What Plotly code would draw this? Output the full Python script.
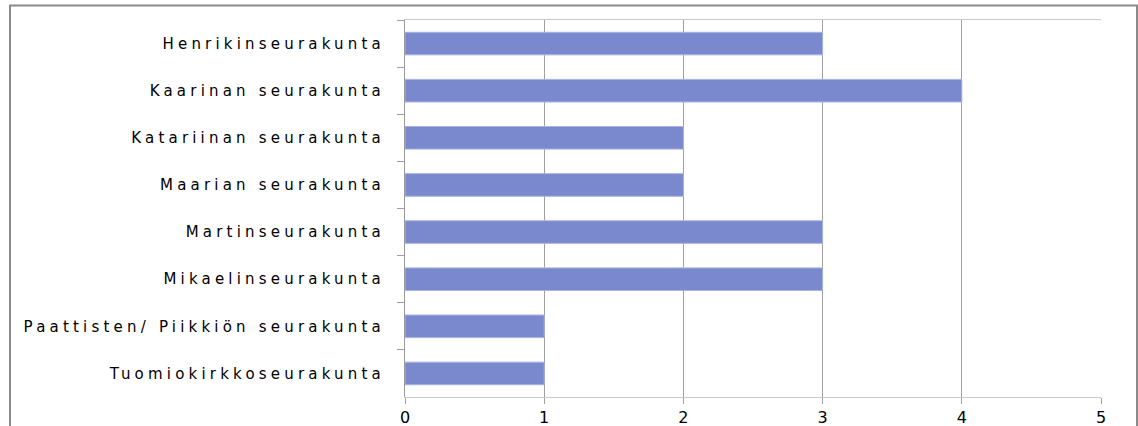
import plotly.graph_objects as go

categories = [
    "Henrikinseurakunta",
    "Kaarinan seurakunta",
    "Katariinan seurakunta",
    "Maarian seurakunta",
    "Martinseurakunta",
    "Mikaelinseurakunta",
    "Paattisten/ Piikkiön seurakunta",
    "Tuomiokirkkoseurakunta",
]
values = [3, 4, 2, 2, 3, 3, 1, 1]
x_ticks = [0, 1, 2, 3, 4, 5]

W, H = 1138, 426
L, R, T, B = 405, 37, 20, 29
pw, ph = W - L - R, H - T - B


def styled(s):
    return '<span style="letter-spacing:4.2px">' + s + '</span>'


ylabels = [styled(c) for c in categories]

fig = go.Figure(
    go.Bar(
        x=values,
        y=ylabels,
        orientation="h",
        marker=dict(color="#7a89ce", line=dict(color="#a9b3e2", width=1)),
        width=0.48,
        hoverinfo="x+y",
    )
)


def px_x(p):
    return (p - L) / pw


def px_y(p):
    return (H - B - p) / ph


fig.add_shape(
    type="rect", xref="paper", yref="paper",
    x0=px_x(10), x1=px_x(1137), y0=px_y(470), y1=px_y(5.5),
    line=dict(color="#8a8a8a", width=2), fillcolor="rgba(0,0,0,0)", layer="below",
)

fig.update_layout(
    template="none",
    width=W, height=H,
    margin=dict(l=L, r=R, t=T, b=B, pad=0),
    plot_bgcolor="white", paper_bgcolor="white",
    showlegend=False,
    font=dict(family="DejaVu Sans", size=15, color="black"),
    bargap=0.52,
)
fig.update_xaxes(
    range=[0, 5], tickmode="array", tickvals=x_ticks, ticktext=[str(v) for v in x_ticks],
    showgrid=True, gridcolor="#a0a0a0", gridwidth=1,
    showline=True, linecolor="#c8c8c8", linewidth=1, mirror=True,
    zeroline=False, ticks="outside", ticklen=6, tickcolor="#a0a0a0",
    tickfont=dict(family="DejaVu Sans", size=16, color="black"),
    automargin=False, fixedrange=True,
)
fig.update_yaxes(
    autorange="reversed", type="category",
    showline=True, linecolor="#9a9a9a", linewidth=1,
    ticks="outside", tickson="boundaries", ticklen=7, tickcolor="#a0a0a0",
    ticklabelstandoff=16,
    tickfont=dict(family="DejaVu Sans", size=15, color="black"),
    showgrid=False, zeroline=False, automargin=False, fixedrange=True,
)

fig.write_html(
    "out.html",
    config={"displayModeBar": False},
    post_script="document.body.style.margin='0';document.body.style.overflow='hidden';",
)
